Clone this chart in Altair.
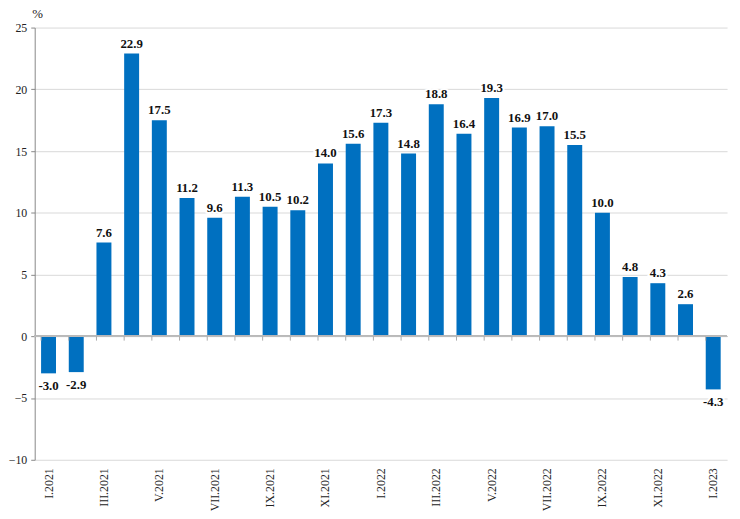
import altair as alt
import pandas as pd

months = ["I.2021", "II.2021", "III.2021", "IV.2021", "V.2021", "VI.2021", "VII.2021",
          "VIII.2021", "IX.2021", "X.2021", "XI.2021", "XII.2021", "I.2022", "II.2022",
          "III.2022", "IV.2022", "V.2022", "VI.2022", "VII.2022", "VIII.2022", "IX.2022",
          "X.2022", "XI.2022", "XII.2022", "I.2023"]
values = [-3.0, -2.9, 7.6, 22.9, 17.5, 11.2, 9.6, 11.3, 10.5, 10.2, 14.0, 15.6, 17.3,
          14.8, 18.8, 16.4, 19.3, 16.9, 17.0, 15.5, 10.0, 4.8, 4.3, 2.6, -4.3]
shown_labels = months[::2]
y_ticks = [-10, -5, 0, 5, 10, 15, 20, 25]

df = pd.DataFrame({"month": months, "value": values})
df["label"] = df["value"].map(lambda v: f"{v:.1f}")
df["pos"] = df["value"] >= 0

FONT = "Liberation Serif"

xscale = alt.Scale(domain=months, paddingInner=0.46, paddingOuter=0.23)
yscale = alt.Scale(domain=[-10, 25], nice=False)

base = alt.Chart(df)

bars = base.mark_bar(color="#0070C0").encode(
    x=alt.X("month:N", scale=xscale, sort=months,
            axis=alt.Axis(values=shown_labels, labelAngle=-90, ticks=False, domain=False,
                          labelFont=FONT, labelFontSize=12, labelColor="#222",
                          labelPadding=8, title=None, labelAlign="right", labelBaseline="middle")),
    y=alt.Y("value:Q", scale=yscale,
            axis=alt.Axis(values=y_ticks, title="%", titleAngle=0, titleAnchor="start",
                          titleAlign="left", titleBaseline="middle", titleX=-3, titleY=-14,
                          titleFont=FONT, titleFontSize=13, titleFontWeight="normal",
                          titleColor="#222",
                          labelFont=FONT, labelFontSize=12, labelColor="#222",
                          gridColor="#d9d9d9", domainColor="#888", tickColor="#888",
                          tickSize=4, labelPadding=4)),
)

zero = base.mark_rule(color="#bbbbbb", strokeWidth=1).encode(y=alt.datum(0))

ticks = base.mark_rule(color="#aaaaaa", strokeWidth=1).encode(
    x=alt.X("month:N", scale=xscale, sort=months, bandPosition=0),
    y=alt.datum(0),
    y2=alt.datum(-0.35),
)

def labels(filt, dy, halo):
    props = dict(dy=dy, font=FONT, fontSize=13, fontWeight="bold")
    if halo:
        props.update(stroke="white", strokeWidth=4, color="white")
    else:
        props.update(color="#111")
    return base.transform_filter(filt).mark_text(**props).encode(
        x=alt.X("month:N", scale=xscale, sort=months), y="value:Q", text="label:N")

chart = alt.layer(
    bars, zero, ticks,
    labels("datum.pos", -10, True), labels("datum.pos", -10, False),
    labels("!datum.pos", 13, True), labels("!datum.pos", 13, False),
).properties(
    width=700, height=437,
    autosize=alt.AutoSizeParams(type="none"),
    padding={"left": 27, "top": 17, "right": 5, "bottom": 50},
).configure_view(stroke=None).configure_axis(grid=True).configure_axisX(grid=False)

chart.save("out.html", embed_options={"renderer": "svg", "actions": False})
